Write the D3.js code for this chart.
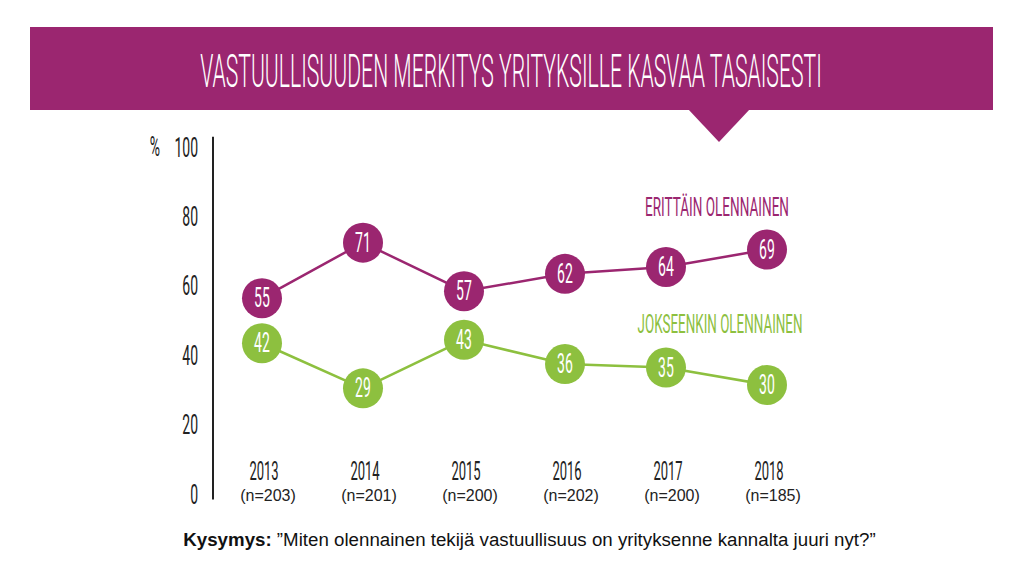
<!DOCTYPE html>
<html><head><meta charset="utf-8">
<script src="https://cdn.jsdelivr.net/npm/d3@7"></script>
<style>html,body{margin:0;padding:0;background:#fff;}svg{display:block;}</style>
</head><body>
<svg id="c" width="1024" height="576"></svg>
<script>
const title = "VASTUULLISUUDEN MERKITYS YRITYKSILLE KASVAA TASAISESTI";
const years = ["2013","2014","2015","2016","2017","2018"];
const sampleSizes = ["(n=203)","(n=201)","(n=200)","(n=202)","(n=200)","(n=185)"];
const veryImportant = [55,71,57,62,64,69];
const somewhatImportant = [42,29,43,36,35,30];
const seriesNames = ["ERITTÄIN OLENNAINEN","JOKSEENKIN OLENNAINEN"];
const yTicks = [0,20,40,60,80,100];
const question = "”Miten olennainen tekijä vastuullisuus on yrityksenne kannalta juuri nyt?”";

const PURPLE = "#9b2670", GREEN = "#8dc03f";
const svg = d3.select("#c");
const condFont = "Roboto, 'Liberation Sans', sans-serif";

function fitWidth(sel, cx, by, w){
  const nat = sel.node().getComputedTextLength();
  const s = w / nat;
  sel.attr("x",0).attr("y",0).attr("text-anchor","middle")
     .attr("transform",`translate(${cx},${by}) scale(${s},1)`);
  return sel;
}

// banner
svg.append("rect").attr("x",30).attr("y",27).attr("width",963).attr("height",83).attr("fill",PURPLE);
svg.append("path").attr("d","M688,109 L750,109 L719,142 Z").attr("fill",PURPLE);
svg.append("text").attr("font-family",condFont).attr("font-weight",300).attr("font-size",47).attr("fill","#fff")
  .text(title).call(fitWidth, 511, 87, 622);

const x = d3.scalePoint().domain(years).range([262,767]);
const y = d3.scaleLinear().domain([0,100]).range([489,142]);

function cond(sel, sx){
  return sel.attr("transform", function(){
    const px = +this.getAttribute("data-x"), py = +this.getAttribute("data-y");
    return `translate(${px},${py}) scale(${sx},1)`;
  });
}

// y axis line
svg.append("line").attr("x1",213).attr("x2",213).attr("y1",y(101.5)).attr("y2",y(-3))
  .attr("stroke","#222").attr("stroke-width",2);

// y tick labels via axis
const yAxis = d3.axisLeft(y).tickValues(yTicks).tickSize(0).tickPadding(0).tickFormat(d3.format("d"));
const yg = svg.append("g").attr("transform","translate(198,0)").call(yAxis);
yg.select(".domain").remove();
yg.selectAll(".tick text").attr("x",0).attr("dy",null).attr("y",0)
  .attr("font-family",condFont).attr("font-size",28).attr("fill","#222")
  .attr("text-anchor","end")
  .attr("transform","translate(0,14) scale(0.5,1)");

svg.append("text").attr("data-x",155).attr("data-y",156).attr("text-anchor","middle")
  .attr("font-family",condFont).attr("font-size",28).attr("fill","#222").text("%").call(cond,0.5);

// x labels
svg.append("g").selectAll("text.yr").data(years).join("text")
  .attr("data-x",d=>x(d)+2).attr("data-y",480).attr("text-anchor","middle")
  .attr("font-family",condFont).attr("font-size",26).attr("fill","#222").text(d=>d).call(cond,0.5);
svg.append("g").selectAll("text.n").data(sampleSizes).join("text")
  .attr("x",(d,i)=>x(years[i])+6).attr("y",501).attr("text-anchor","middle")
  .attr("font-family","'Liberation Sans', Arial, sans-serif").attr("font-size",16).attr("fill","#222").text(d=>d);

function drawSeries(vals, color){
  const pts = vals.map((v,i)=>({yr:years[i], v}));
  const line = d3.line().x(d=>x(d.yr)).y(d=>y(d.v));
  svg.append("path").datum(pts).attr("d",line).attr("fill","none").attr("stroke",color).attr("stroke-width",2.5);
  const g = svg.append("g");
  g.selectAll("circle").data(pts).join("circle").attr("cx",d=>x(d.yr)).attr("cy",d=>y(d.v)).attr("r",20).attr("fill",color);
  g.selectAll("text").data(pts).join("text")
    .attr("data-x",d=>x(d.yr)).attr("data-y",d=>y(d.v)+9).attr("text-anchor","middle")
    .attr("font-family",condFont).attr("font-size",27).attr("fill","#fff").text(d=>d.v).call(cond,0.52);
}
drawSeries(veryImportant, PURPLE);
drawSeries(somewhatImportant, GREEN);

// series labels
svg.append("text").attr("font-family",condFont).attr("font-size",25).attr("fill",PURPLE)
  .text(seriesNames[0]).call(fitWidth, 717, 216, 144);
svg.append("text").attr("font-family",condFont).attr("font-size",25).attr("fill",GREEN)
  .text(seriesNames[1]).call(fitWidth, 720, 333, 165);

// question
const q = svg.append("text").attr("font-family","'Liberation Sans', Arial, sans-serif").attr("font-size",19).attr("fill","#111");
q.append("tspan").attr("font-weight","bold").text("Kysymys:");
q.append("tspan").text(" " + question);
q.call(fitWidth, 529.5, 546, 693);
</script>
</body></html>
